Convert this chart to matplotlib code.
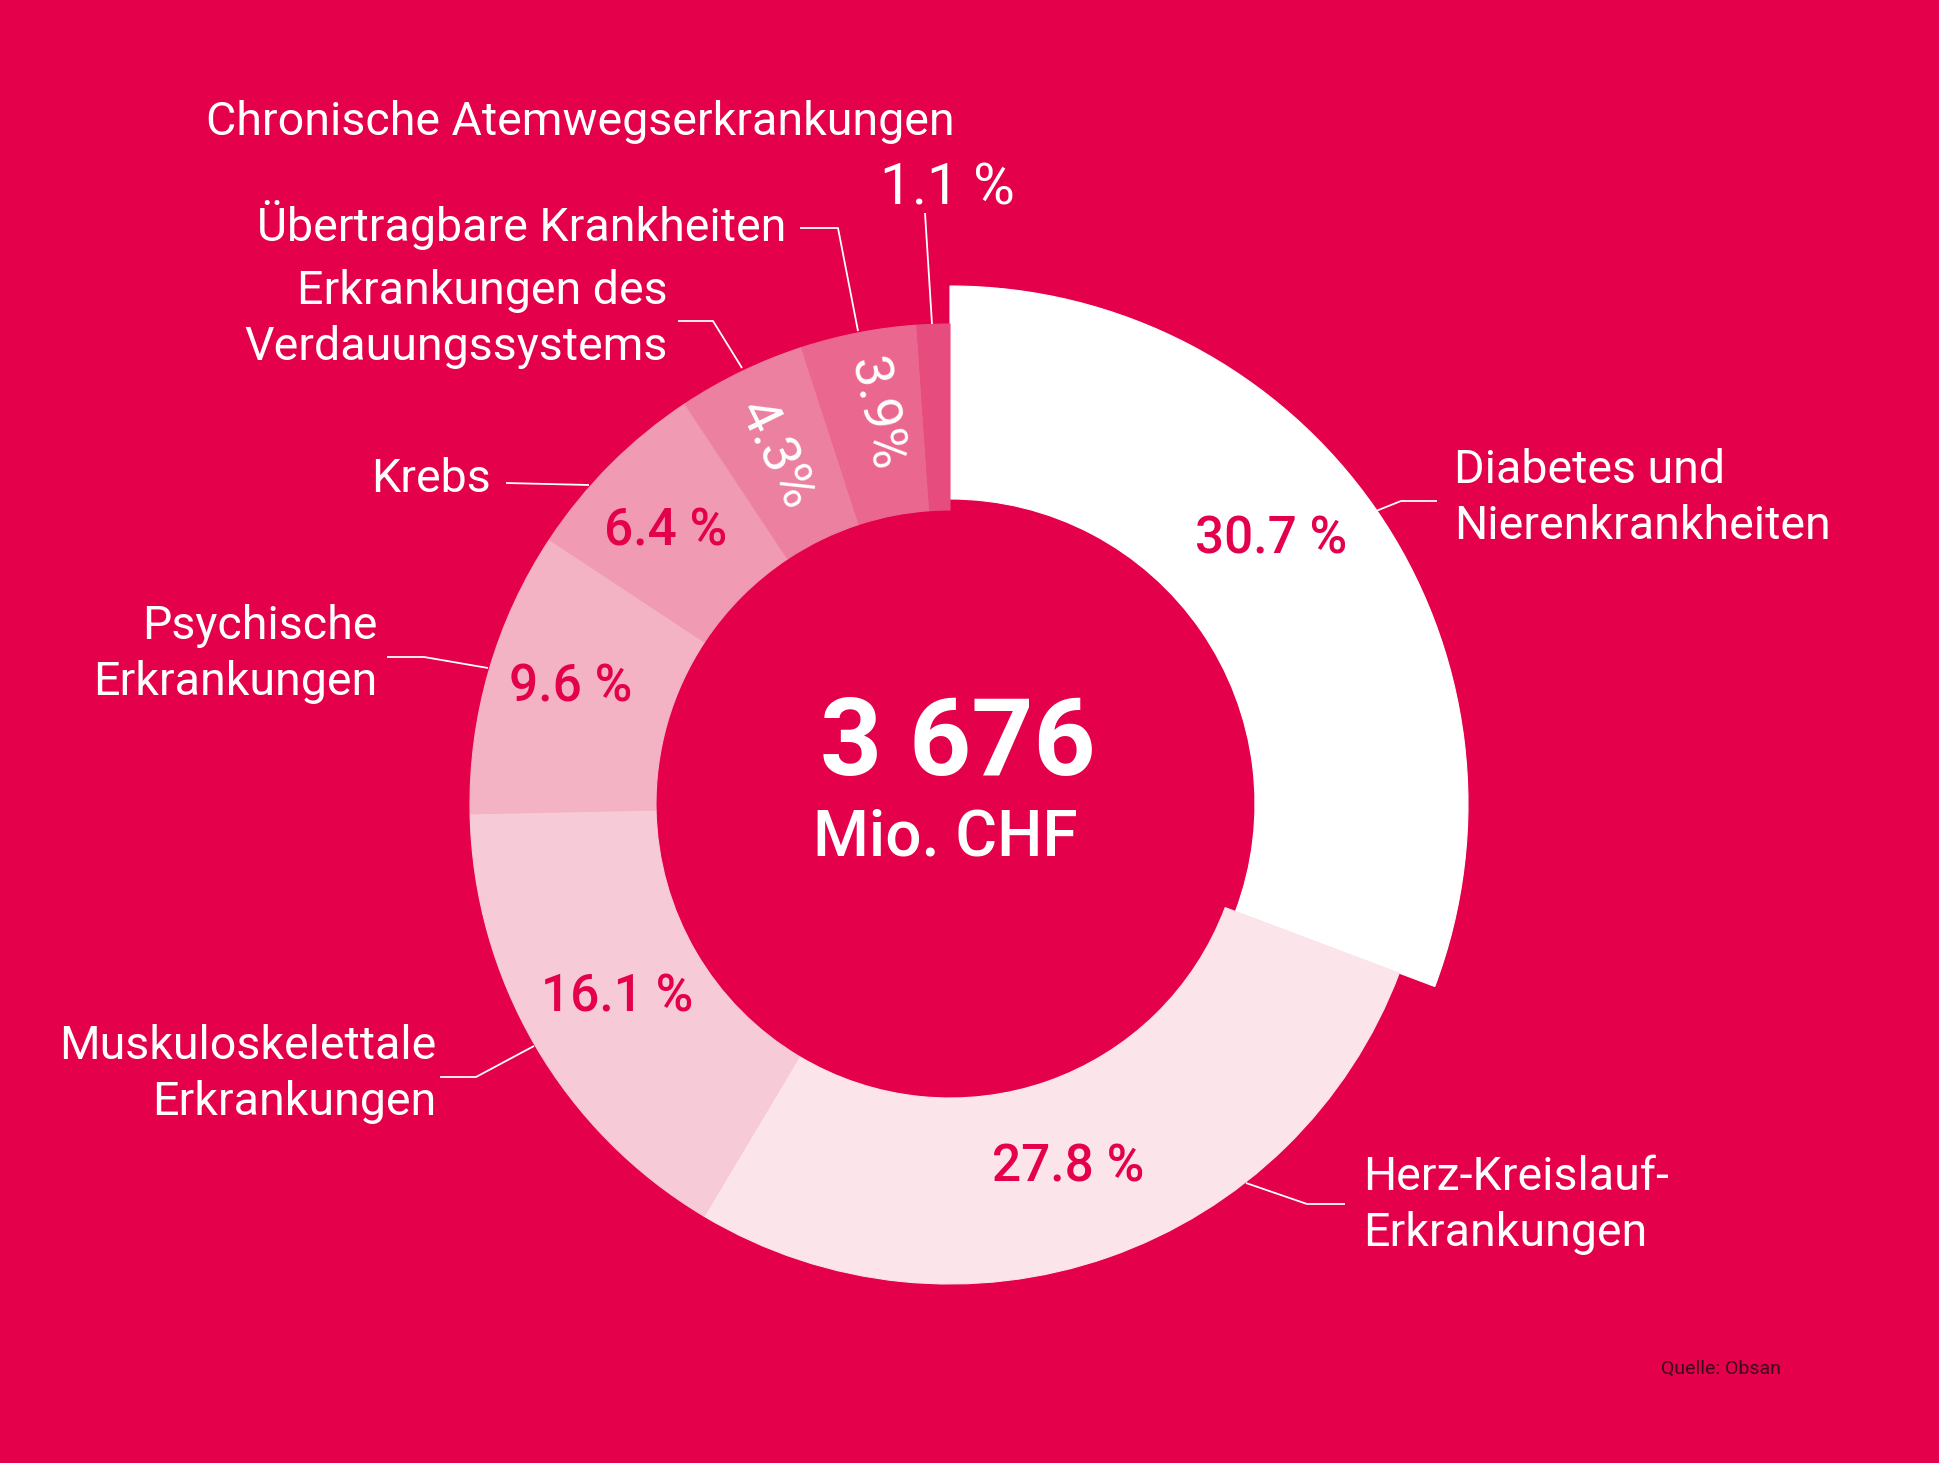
import matplotlib
matplotlib.use("Agg")
import matplotlib.pyplot as plt

categories = ["Diabetes und\nNierenkrankheiten", "Herz-Kreislauf-\nErkrankungen",
              "Muskuloskelettale\nErkrankungen", "Psychische\nErkrankungen", "Krebs",
              "Erkrankungen des\nVerdauungssystems", "Übertragbare Krankheiten",
              "Chronische Atemwegserkrankungen"]
shares = [30.7, 27.8, 16.1, 9.6, 6.4, 4.3, 3.9, 1.1]
share_labels = ["30.7 %", "27.8 %", "16.1 %", "9.6 %", "6.4 %", "4.3%", "3.9%", "1.1 %"]
total_label = "3 676"
unit_label = "Mio. CHF"
source = "Quelle: Obsan"

BG = "#E4004B"
colors = ["#FFFFFF", "#FBE4EA", "#F7CAD7", "#F4B2C5", "#F09AB3", "#EC80A0", "#EA6890", "#E64C7D"]

W, H = 1939, 1463
fig = plt.figure(figsize=(W / 100, H / 100), dpi=100, facecolor=BG)
ax = fig.add_axes([0, 0, 1, 1])
ax.set_facecolor(BG)

cx, cy = 950, H - 804
R, RW = 480, 186
wedges, _ = ax.pie(shares, colors=colors, startangle=90, counterclock=False,
                   radius=R, center=(cx, cy),
                   wedgeprops=dict(width=RW, linewidth=0.8))
for w, c in zip(wedges, colors):
    w.set_edgecolor(c)
wedges[0].set_radius(518)
wedges[0].set_width(213)

ax.set_xlim(0, W)
ax.set_ylim(0, H)
ax.set_aspect("equal")
ax.axis("off")

FONT = "Roboto"
def Y(y):
    return H - y

# category labels: (x, y_center, ha)
lab_pos = [
    (1454, 498, "left"),
    (1363, 1205, "left"),
    (436, 1074, "right"),
    (377, 654, "right"),
    (491, 479, "right"),
    (668, 319, "right"),
    (786, 225, "right"),
    (206, 122, "left"),
]
for text, (x, y, ha) in zip(categories, lab_pos):
    ax.text(x, Y(y), text, ha=ha, va="center", color="white", fontsize=33.5,
            family=FONT, linespacing=1.36)

# leader lines
leaders = [
    [(1376, 511), (1401, 501), (1437, 501)],
    [(1246, 1183), (1307, 1204), (1345, 1204)],
    [(440, 1077), (476, 1077), (534, 1046)],
    [(387, 657), (424, 657), (488, 668)],
    [(506, 483), (589, 485)],
    [(678, 321), (713, 321), (742, 368)],
    [(800, 228), (838, 228), (858, 331)],
    [(925, 213), (932, 324)],
]
for pts in leaders:
    xs = [p[0] for p in pts]
    ys = [Y(p[1]) for p in pts]
    ax.plot(xs, ys, color="white", lw=1.3, solid_capstyle="butt")

# percentage labels: (x, y, rotation, color, size, weight)
pct_pos = [
    (1271, 539, 0, BG, 37, "medium"),
    (1068, 1168, 0, BG, 37, "medium"),
    (617, 997, 0, BG, 37, "medium"),
    (571, 688, 0, BG, 37, "medium"),
    (666, 531, 0, BG, 37, "medium"),
    (775, 455, -63.9, "white", 39, "normal"),
    (875, 414, -78.7, "white", 39, "normal"),
    (947, 189, 0, "white", 41, "normal"),
]
for text, (x, y, rot, col, fs, wt) in zip(share_labels, pct_pos):
    ax.text(x, Y(y), text, ha="center", va="center", color=col, fontsize=fs,
            family=FONT, fontweight=wt, rotation=rot, rotation_mode="anchor")

ax.text(958, Y(746), total_label, ha="center", va="center", color="white",
        fontsize=78, fontweight="bold", family=FONT)
ax.text(945, Y(837), unit_label, ha="center", va="center", color="white",
        fontsize=46, fontweight="medium", family=FONT)
ax.text(1661, Y(1369), source, ha="left", va="center", color="#3A0A1E",
        fontsize=14, family=FONT)

fig.savefig("out.png", dpi=100, facecolor=BG)
